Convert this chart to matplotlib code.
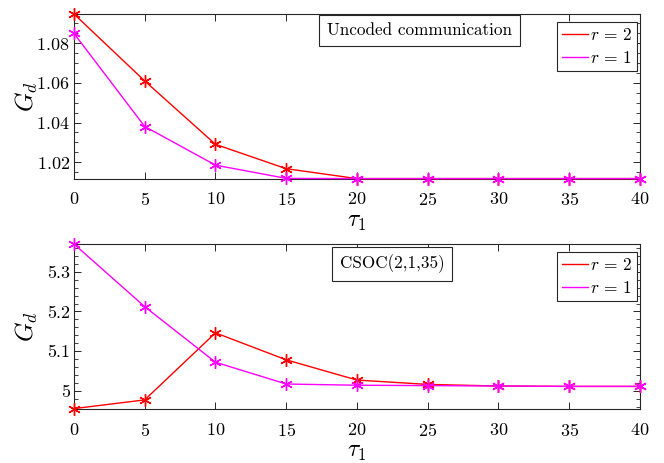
import numpy as np
import matplotlib
matplotlib.use('Agg')
import matplotlib.pyplot as plt
from matplotlib.lines import Line2D
from matplotlib.ticker import MultipleLocator

plt.rcParams['font.family'] = 'serif'
plt.rcParams['font.serif'] = ['cmr10']
plt.rcParams['mathtext.fontset'] = 'cm'
plt.rcParams['axes.formatter.use_mathtext'] = True

tau = [0, 5, 10, 15, 20, 25, 30, 35, 40]

# uncoded communication
unc_r2 = [1.0948, 1.061, 1.029, 1.0167, 1.0117, 1.0117, 1.0117, 1.0117, 1.0117]
unc_r1 = [1.085, 1.038, 1.0185, 1.0118, 1.0117, 1.0117, 1.0117, 1.0117, 1.0117]

# CSOC(2,1,35)
csoc_r2 = [4.955, 4.977, 5.146, 5.078, 5.027, 5.016, 5.012, 5.011, 5.011]
csoc_r1 = [5.37, 5.212, 5.072, 5.017, 5.014, 5.013, 5.012, 5.011, 5.011]

red = '#FF0000'
mag = '#FF00FF'
axcol = '#262626'
star = (6, 2, 0)  # asterisk marker like matlab '*'

fig = plt.figure(figsize=(6.64, 4.63), dpi=100)
ax1 = fig.add_axes([0.1114, 0.6134, 0.8524, 0.3564])
ax2 = fig.add_axes([0.1114, 0.1166, 0.8524, 0.3564])

def style(ax, ylim, major, minor, label, boxpos):
    ax.set_xlim(0, 40)
    ax.set_ylim(*ylim)
    ax.set_xticks(tau)
    ax.yaxis.set_major_locator(MultipleLocator(major))
    ax.yaxis.set_minor_locator(MultipleLocator(minor))
    ax.tick_params(axis='both', which='both', direction='in', top=True, right=True,
                   labelsize=13, colors=axcol, labelcolor='black')
    ax.tick_params(axis='both', which='major', length=5, width=0.7)
    ax.tick_params(axis='x', which='major', pad=9)
    ax.tick_params(axis='y', which='major', pad=3)
    ax.tick_params(axis='y', which='minor', length=3, width=0.6)
    for s in ax.spines.values():
        s.set_color(axcol)
        s.set_linewidth(0.8)
    ax.set_xlabel(r'$\tau_1$', fontsize=17)
    ax.set_ylabel(r'$G_d$', fontsize=18)
    ax.xaxis.set_label_coords(0.5, -0.195)
    ax.yaxis.set_label_coords(-0.06, 0.5)
    ax.text(boxpos[0], boxpos[1], label, transform=ax.transAxes, fontsize=12.3,
            va='top', ha='left',
            bbox=dict(boxstyle='square,pad=0.45', fc='white', ec=axcol, lw=0.8))
    handles = [Line2D([], [], color=red, lw=1), Line2D([], [], color=mag, lw=1)]
    leg = ax.legend(handles, [r'$r\,=\,2$', r'$r\,=\,1$'], loc='upper right',
                    bbox_to_anchor=(0.9947, 0.952), fontsize=12.5,
                    fancybox=False, edgecolor=axcol, handlelength=1.5,
                    handletextpad=0.1, borderpad=0.3, borderaxespad=0,
                    labelspacing=0.4, framealpha=1)
    leg.get_frame().set_linewidth(0.8)

ax1.plot(tau, unc_r2, color=red, lw=1, marker=star, ms=9, mew=1, clip_on=False, zorder=3)
ax1.plot(tau, unc_r1, color=mag, lw=1, marker=star, ms=9, mew=1, clip_on=False, zorder=4)
style(ax1, (1.0115, 1.0948), 0.02, 0.005, 'Uncoded communication', (0.447, 0.945))

ax2.plot(tau, csoc_r2, color=red, lw=1, marker=star, ms=9, mew=1, clip_on=False, zorder=3)
ax2.plot(tau, csoc_r1, color=mag, lw=1, marker=star, ms=9, mew=1, clip_on=False, zorder=4)
style(ax2, (4.954, 5.37), 0.1, 0.02, 'CSOC(2,1,35)', (0.47, 0.935))
ax2.set_yticks([5.0, 5.1, 5.2, 5.3])
ax2.set_yticklabels(['5', '5.1', '5.2', '5.3'])

fig.savefig('out.png', dpi=100)
